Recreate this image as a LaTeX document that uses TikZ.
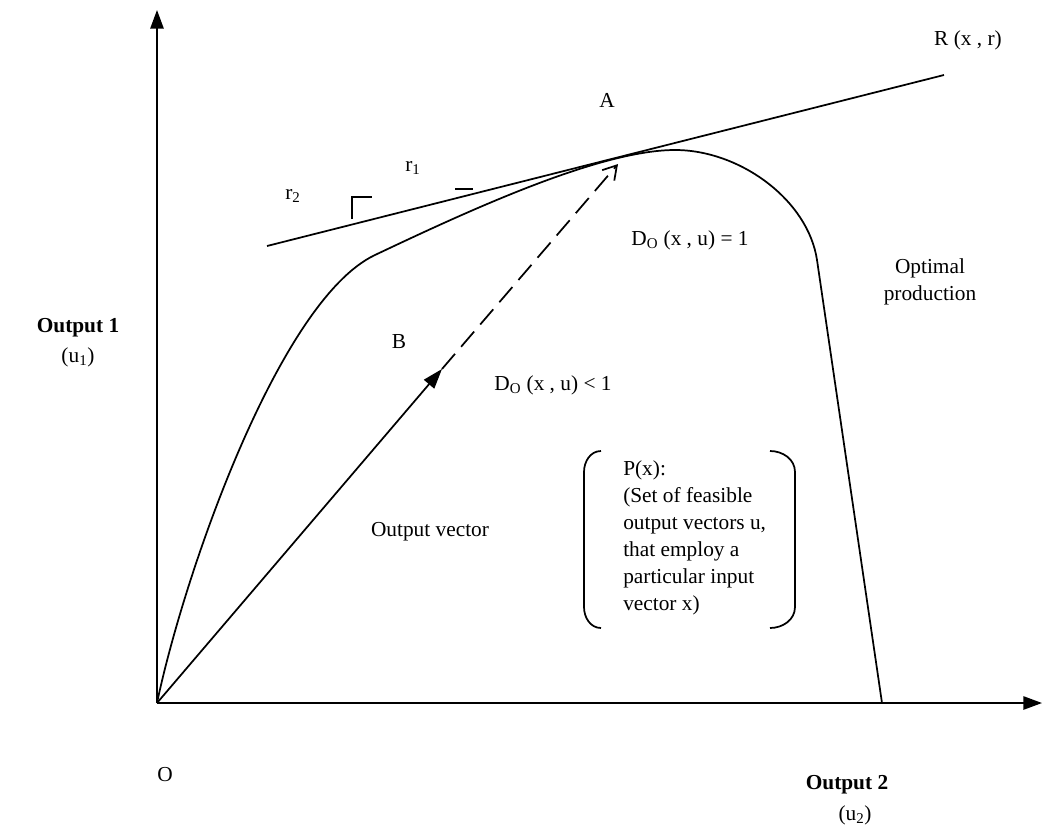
\documentclass[tikz,border=0pt]{standalone}
\usepackage{fontspec}
\setmainfont{Liberation Serif}
\usetikzlibrary{arrows.meta}
\begin{document}
\begin{tikzpicture}[x=0.75pt,y=-0.75pt,
  line/.style={line width=1.3pt},
  lbl/.style={font=\fontsize{16}{20}\selectfont, inner sep=0pt},
  axis/.style={line width=1.3pt, -{Triangle[length=14pt,width=10pt]}},
]
\useasboundingbox (0,0) rectangle (1042,836);
% axes
\coordinate (O) at (157,703);
\coordinate (ytop) at (157,10);
\coordinate (xend) at (1042,703);
\draw[axis] (O) -- (ytop);
\draw[axis] (O) -- (xend);
% tangent line
\coordinate (tl) at (267,246);
\coordinate (tr) at (944,75);
\draw[line] (tl) -- (tr);
% frontier
\coordinate (knee) at (375,255);
\coordinate (peak) at (675,150);
\coordinate (fb) at (817,260);
\coordinate (fe) at (882,703);
\draw[line, line join=round] (O) .. controls (185,570) and (280,300) .. (knee)
  .. controls (470,210) and (600,150) .. (peak)
  .. controls (740,150) and (808,200) .. (fb) -- (fe);
% output vector
\coordinate (B) at (442,369);
\coordinate (Atip) at (618,164);
\draw[line, -{Triangle[length=15pt,width=10pt]}] (O) -- (B);
\draw[line, dash pattern=on 15pt off 7pt, -{Straight Barb[length=10pt,width=12pt]}] (B) -- (Atip);
% r marks
\coordinate (m1) at (352,219);
\coordinate (m2) at (352,197);
\coordinate (m3) at (372,197);
\draw[line] (m1) -- (m2) -- (m3);
\coordinate (d1) at (455,189);
\coordinate (d2) at (473,189);
\draw[line] (d1) -- (d2);
% bracket box
\draw[line] (601,451) to[out=180,in=90] (584,472) -- (584,607) to[out=-90,in=180] (601,628);
\draw[line] (770,451) to[out=0,in=90] (795,472) -- (795,607) to[out=-90,in=0] (770,628);
% labels
\node[lbl] (R) at (968,40) {R (x , r)};
\node[lbl] (A) at (607,100) {A};
\node[lbl] (r1) at (413,168) {r\textsubscript{1}};
\node[lbl] (r2) at (293,196) {r\textsubscript{2}};
\node[lbl] (D1) at (690,240) {D\textsubscript{O} (x , u) = 1};
\node[lbl] (D2) at (553,385) {D\textsubscript{O} (x , u) < 1};
\node[lbl] (Bl) at (399,342) {B};
\node[lbl, align=center] (opt) at (930,282) {Optimal\\production};
\node[lbl, font=\fontsize{16}{20}\selectfont\bfseries] (o1) at (78,328) {Output 1};
\node[lbl] (u1) at (78,357) {(u\textsubscript{1})};
\node[lbl] (ov) at (430,532) {Output vector};
\node[lbl] (Ol) at (165,775) {O};
\node[lbl, font=\fontsize{16}{20}\selectfont\bfseries] (o2) at (847,785) {Output 2};
\node[lbl] (u2) at (855,815) {(u\textsubscript{2})};
\node[lbl, anchor=north west, align=left, font=\fontsize{16}{20.3}\selectfont] (P) at (623,460) {P(x):\\(Set of feasible\\output vectors u,\\that employ a\\particular input\\vector x)};
\end{tikzpicture}
\end{document}
